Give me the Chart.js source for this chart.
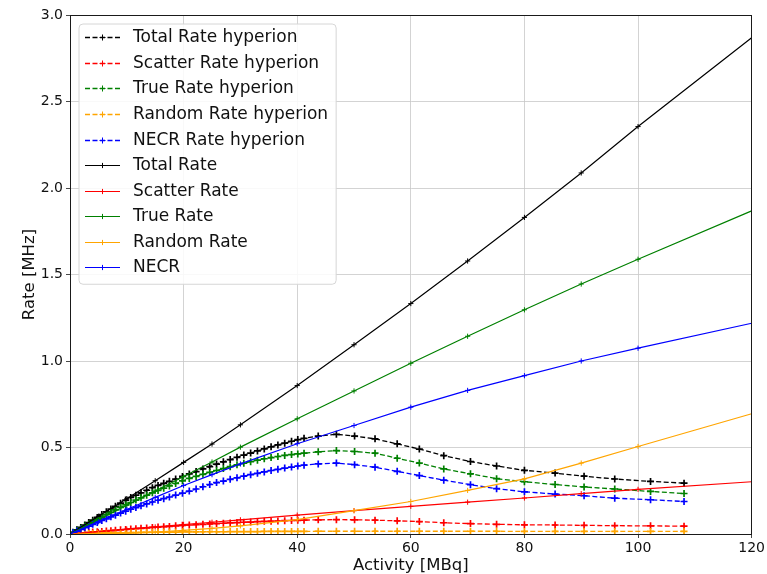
<!DOCTYPE html>
<html>
<head>
<meta charset="utf-8">
<script src="https://cdn.jsdelivr.net/npm/chart.js@4.4.1/dist/chart.umd.min.js"></script>
<style>
  html, body { margin: 0; padding: 0; background: #ffffff; }
  #wrap { width: 767px; height: 574px; }
</style>
</head>
<body>
<div id="wrap"><canvas id="rates" width="767" height="574"></canvas></div>
<script>
// Measured (hyperion) count rates versus activity
const hypActivity = [
  0.5, 1.2, 1.9, 2.6, 3.3, 4.0, 4.8, 5.6, 6.4, 7.2,
  8.0, 8.9, 9.8, 10.7, 11.6, 12.5, 13.5, 14.5, 15.5, 16.5,
  17.5, 18.6, 19.8, 21.0, 22.2, 23.4, 24.6, 25.8, 27.0, 28.2,
  29.4, 30.6, 31.8, 33.0, 34.2, 35.4, 36.6, 37.8, 39.0, 40.1,
  41.2,
  43.7, 46.9, 50.1, 53.7, 57.6, 61.5, 65.8, 70.5, 75.1, 80.0,
  85.4, 90.5, 95.9, 102.2, 108.1
];
const hypTotal = [
  0.010, 0.024, 0.038, 0.052, 0.066, 0.080, 0.096, 0.112, 0.128, 0.144,
  0.160, 0.178, 0.196, 0.211, 0.224, 0.238, 0.253, 0.268, 0.281, 0.293,
  0.305, 0.318, 0.333, 0.347, 0.361, 0.376, 0.390, 0.404, 0.417, 0.430,
  0.443, 0.456, 0.468, 0.480, 0.492, 0.504, 0.515, 0.525, 0.536, 0.546,
  0.553,
  0.566, 0.576, 0.566, 0.550, 0.521, 0.491, 0.453, 0.419, 0.393, 0.368,
  0.352, 0.334, 0.318, 0.304, 0.294
];
const hypScatter = [
  0.001, 0.003, 0.005, 0.007, 0.009, 0.011, 0.013, 0.015, 0.017, 0.019,
  0.021, 0.024, 0.026, 0.029, 0.031, 0.033, 0.035, 0.038, 0.040, 0.042,
  0.044, 0.047, 0.050, 0.052, 0.054, 0.056, 0.058, 0.060, 0.062, 0.064,
  0.066, 0.068, 0.069, 0.071, 0.073, 0.074, 0.075, 0.077, 0.078, 0.079,
  0.080,
  0.082, 0.083, 0.082, 0.080, 0.076, 0.072, 0.065, 0.060, 0.056, 0.053,
  0.052, 0.050, 0.048, 0.047, 0.045
];
const hypTrue = [
  0.009, 0.021, 0.033, 0.046, 0.058, 0.070, 0.084, 0.098, 0.112, 0.125,
  0.139, 0.154, 0.169, 0.182, 0.196, 0.209, 0.224, 0.238, 0.252, 0.265,
  0.278, 0.292, 0.307, 0.321, 0.333, 0.345, 0.356, 0.367, 0.378, 0.389,
  0.400, 0.409, 0.418, 0.427, 0.435, 0.442, 0.448, 0.454, 0.459, 0.463,
  0.467,
  0.475, 0.482, 0.477, 0.467, 0.438, 0.410, 0.376, 0.348, 0.320, 0.302,
  0.286, 0.272, 0.260, 0.246, 0.234
];
const hypRandom = [
  0.001, 0.001, 0.002, 0.002, 0.003, 0.003, 0.004, 0.004, 0.005, 0.005,
  0.006, 0.007, 0.007, 0.008, 0.008, 0.009, 0.009, 0.010, 0.010, 0.011,
  0.011, 0.011, 0.012, 0.012, 0.012, 0.013, 0.013, 0.013, 0.013, 0.014,
  0.014, 0.014, 0.014, 0.014, 0.015, 0.015, 0.015, 0.015, 0.015, 0.015,
  0.015,
  0.016, 0.016, 0.016, 0.016, 0.016, 0.016, 0.016, 0.016, 0.016, 0.015,
  0.015, 0.015, 0.015, 0.015, 0.015
];
const hypNecr = [
  0.007, 0.017, 0.027, 0.036, 0.046, 0.056, 0.067, 0.078, 0.088, 0.099,
  0.109, 0.121, 0.132, 0.143, 0.153, 0.163, 0.174, 0.185, 0.195, 0.204,
  0.214, 0.225, 0.236, 0.248, 0.260, 0.273, 0.286, 0.297, 0.306, 0.316,
  0.325, 0.334, 0.343, 0.351, 0.359, 0.367, 0.374, 0.381, 0.387, 0.393,
  0.398,
  0.405, 0.410, 0.401, 0.386, 0.362, 0.338, 0.311, 0.285, 0.262, 0.244,
  0.231, 0.221, 0.207, 0.198, 0.188
];

// Simulated count rates versus activity
const simActivity = [0, 5, 10, 15, 20, 25, 30, 40, 50, 60, 70, 80, 90, 100, 120];
const simTotal   = [0, 0.102, 0.204, 0.308, 0.414, 0.520, 0.631, 0.858, 1.094, 1.332, 1.578, 1.830, 2.087, 2.355, 2.868];
const simScatter = [0, 0.014, 0.028, 0.041, 0.055, 0.068, 0.082, 0.109, 0.135, 0.160, 0.184, 0.208, 0.233, 0.258, 0.302];
const simTrue    = [0, 0.083, 0.166, 0.248, 0.332, 0.416, 0.502, 0.666, 0.827, 0.987, 1.143, 1.296, 1.445, 1.588, 1.868];
const simRandom  = [0, 0.001, 0.005, 0.011, 0.021, 0.033, 0.047, 0.083, 0.135, 0.188, 0.252, 0.319, 0.410, 0.506, 0.695];
const simNecr    = [0, 0.071, 0.142, 0.212, 0.280, 0.343, 0.405, 0.522, 0.627, 0.733, 0.830, 0.915, 1.000, 1.074, 1.218];

// Axis ticks
const xTicks = [0, 20, 40, 60, 80, 100, 120];
const yTicks = [0.0, 0.5, 1.0, 1.5, 2.0, 2.5, 3.0];

const FONT = '"DejaVu Sans", "Liberation Sans", sans-serif';
const COLORS = { total: '#000000', scatter: '#ff0000', true: '#008000', random: '#ffa500', necr: '#0000ff' };

function pairs(xs, ys) { return xs.map((x, i) => ({ x: x, y: ys[i] })); }

function hyperion(label, ys, color) {
  return {
    label: label, data: pairs(hypActivity, ys),
    borderColor: color, backgroundColor: color,
    borderWidth: 1.3, borderDash: [5, 2.5],
    pointStyle: 'cross', pointRadius: 3.5, pointBorderWidth: 1.7,
    pointBorderColor: color, pointHoverRadius: 3.5, tension: 0
  };
}
function simulated(label, ys, color) {
  return {
    label: label, data: pairs(simActivity, ys),
    borderColor: color, backgroundColor: color,
    borderWidth: 1.2, borderDash: [],
    pointStyle: 'cross',
    pointRadius: (ctx) => (ctx.dataIndex === simActivity.length - 1 ? 0 : 2.6),
    pointBorderWidth: 1, pointBorderColor: color, pointHoverRadius: 2.6, tension: 0
  };
}

const datasets = [
  hyperion('Total Rate hyperion', hypTotal, COLORS.total),
  hyperion('Scatter Rate hyperion', hypScatter, COLORS.scatter),
  hyperion('True Rate hyperion', hypTrue, COLORS.true),
  hyperion('Random Rate hyperion', hypRandom, COLORS.random),
  hyperion('NECR Rate hyperion', hypNecr, COLORS.necr),
  simulated('Total Rate', simTotal, COLORS.total),
  simulated('Scatter Rate', simScatter, COLORS.scatter),
  simulated('True Rate', simTrue, COLORS.true),
  simulated('Random Rate', simRandom, COLORS.random),
  simulated('NECR', simNecr, COLORS.necr)
];
// later series are painted above earlier ones
datasets.forEach((d, i) => { d.order = datasets.length - i; });

// Frame on all four sides plus the boxed legend in the upper-left corner
const frameAndLegend = {
  id: 'frameAndLegend',
  afterDatasetsDraw(chart) {
    const ctx = chart.ctx, a = chart.chartArea;
    ctx.save();
    ctx.strokeStyle = '#1a1a1a';
    ctx.lineWidth = 1;
    ctx.strokeRect(Math.round(a.left) + 0.5, Math.round(a.top) + 0.5,
                   Math.round(a.right - a.left) - 1, Math.round(a.bottom - a.top));
    ctx.restore();
  },
  afterDraw(chart) {
    const ctx = chart.ctx, a = chart.chartArea;
    const ds = chart.data.datasets;
    const left = a.left + 9, top = a.top + 9;
    const rowH = 25.55, firstY = 13.3;
    ctx.save();
    ctx.font = '17px ' + FONT;
    let maxW = 0;
    ds.forEach(d => { maxW = Math.max(maxW, ctx.measureText(d.label).width); });
    const w = 54 + maxW + 8, h = firstY + rowH * (ds.length - 1) + 17;
    const r = 4;
    ctx.beginPath();
    ctx.moveTo(left + r, top);
    ctx.lineTo(left + w - r, top); ctx.quadraticCurveTo(left + w, top, left + w, top + r);
    ctx.lineTo(left + w, top + h - r); ctx.quadraticCurveTo(left + w, top + h, left + w - r, top + h);
    ctx.lineTo(left + r, top + h); ctx.quadraticCurveTo(left, top + h, left, top + h - r);
    ctx.lineTo(left, top + r); ctx.quadraticCurveTo(left, top, left + r, top);
    ctx.closePath();
    ctx.fillStyle = 'rgba(255,255,255,0.85)';
    ctx.fill();
    ctx.strokeStyle = '#d6d6d6';
    ctx.lineWidth = 1;
    ctx.stroke();

    ds.forEach((d, i) => {
      const y = Math.round(top + firstY + i * rowH) + 0.5;
      const x0 = left + 6, x1 = left + 41, xm = (x0 + x1) / 2;
      ctx.strokeStyle = d.borderColor;
      ctx.lineWidth = d.borderWidth;
      ctx.setLineDash(d.borderDash || []);
      ctx.beginPath(); ctx.moveTo(x0, y); ctx.lineTo(x1, y); ctx.stroke();
      ctx.setLineDash([]);
      const m = d.borderDash && d.borderDash.length ? 3 : 2.6;
      ctx.lineWidth = 1;
      ctx.beginPath();
      ctx.moveTo(xm - m, y); ctx.lineTo(xm + m, y);
      ctx.moveTo(xm, y - m); ctx.lineTo(xm, y + m);
      ctx.stroke();
      ctx.fillStyle = '#111111';
      ctx.textAlign = 'left';
      ctx.textBaseline = 'middle';
      ctx.fillText(d.label, left + 54, y);
    });
    ctx.restore();
  }
};

new Chart(document.getElementById('rates'), {
  type: 'line',
  data: { datasets: datasets },
  plugins: [frameAndLegend],
  options: {
    responsive: false,
    animation: false,
    devicePixelRatio: 1,
    layout: { padding: { left: 20, right: 13, top: 15, bottom: 0 } },
    plugins: { legend: { display: false }, tooltip: { enabled: false } },
    scales: {
      x: {
        type: 'linear', min: 0, max: 120,
        afterBuildTicks: (s) => { s.ticks = xTicks.map(v => ({ value: v })); },
        afterFit: (s) => { s.height = 40; },
        ticks: { font: { family: FONT, size: 14 }, color: '#111', padding: 2, maxRotation: 0 },
        grid: { color: '#c8c8c8', lineWidth: 0.8, tickColor: '#1a1a1a', tickLength: 4 },
        border: { color: '#1a1a1a', width: 1 },
        title: { display: true, text: 'Activity [MBq]', font: { family: FONT, size: 16.5 }, color: '#111', padding: { top: 0, bottom: -2 } }
      },
      y: {
        type: 'linear', min: 0, max: 3,
        afterBuildTicks: (s) => { s.ticks = yTicks.map(v => ({ value: v })); },
        afterFit: (s) => { s.width = 50; },
        ticks: { font: { family: FONT, size: 14 }, color: '#111', padding: 3, callback: (v) => Number(v).toFixed(1) },
        grid: { color: '#c8c8c8', lineWidth: 0.8, tickColor: '#1a1a1a', tickLength: 4 },
        border: { color: '#1a1a1a', width: 1 },
        title: { display: true, text: 'Rate [MHz]', font: { family: FONT, size: 16.5 }, color: '#111', padding: { top: 0, bottom: 0 } }
      }
    }
  }
});
</script>
</body>
</html>
